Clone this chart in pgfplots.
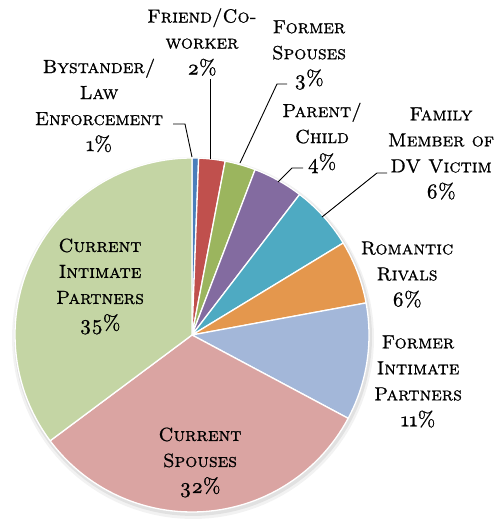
\documentclass[border=0pt]{standalone}
\usepackage{pgfplots}
\pgfplotsset{compat=1.18}
\definecolor{cBlue}{HTML}{4A7EBB}
\definecolor{cRed}{HTML}{C0504D}
\definecolor{cGreen}{HTML}{9BB55E}
\definecolor{cPurple}{HTML}{836BA0}
\definecolor{cTeal}{HTML}{4EAAC2}
\definecolor{cOrange}{HTML}{E4974D}
\definecolor{cLBlue}{HTML}{A3B7D9}
\definecolor{cPink}{HTML}{DAA4A2}
\definecolor{cLGreen}{HTML}{C4D5A4}
\font\scf="[lmromancaps10-regular]:mapping=tex-text;embolden=0.9" at 19pt
\font\pcf="[lmroman10-regular]:mapping=tex-text;+onum;embolden=0.9" at 21pt
\newcommand\pct[1]{{\pcf#1\%}}
% slice: #1 cumulative percent before, #2 percent, #3 colour
\newcommand\slice[3]{%
\addplot[fill=#3, draw=white, line width=1.3pt, line join=round,
  domain={90-3.6*(#1+#2)}:{90-3.6*(#1)}, samples=60, variable=\t]
  ({192+177*cos(\t)},{186+177*sin(\t)}) -- (192,186) -- cycle;}
\begin{document}
\begin{tikzpicture}
\begin{axis}[width=497pt, height=521pt, scale only axis,
  xmin=0, xmax=497, ymin=0, ymax=521, hide axis, clip=false]
\path (rel axis cs:0,0) rectangle (rel axis cs:1,1);
% soft shadow
\addplot[draw=none, fill=black, fill opacity=0.05, domain=0:360, samples=120, variable=\t]
  ({193+181*cos(\t)},{183+181*sin(\t)}) -- cycle;
\addplot[draw=none, fill=black, fill opacity=0.07, domain=0:360, samples=120, variable=\t]
  ({193+179*cos(\t)},{184+179*sin(\t)}) -- cycle;
\slice{0}{0.6}{cBlue}
\slice{0.6}{2.4}{cRed}
\slice{3.0}{2.8}{cGreen}
\slice{5.8}{4.6}{cPurple}
\slice{10.4}{5.9}{cTeal}
\slice{16.3}{5.8}{cOrange}
\slice{22.1}{10.7}{cLBlue}
\slice{32.8}{32.0}{cPink}
\slice{64.8}{35.2}{cLGreen}
% leader lines
\addplot[black, line width=0.9pt, mark=none] coordinates {(173,397) (185,397) (192,364)};
\addplot[black, line width=0.9pt, mark=none] coordinates {(210,442) (210,362)};
\addplot[black, line width=0.9pt, mark=none] coordinates {(287,437) (277,437) (240,358)};
\addplot[black, line width=0.9pt, mark=none] coordinates {(303,353) (292,353) (278,339)};
\addplot[black, line width=0.9pt, mark=none] coordinates {(387,348) (377,348) (322,304)};
% labels
\tikzset{lbl/.style={align=center, inner sep=0pt, font=\fontsize{19}{26}\selectfont\scf}}
\node[lbl] at (99,415.5) {Bystander/\\Law\\Enforcement\\\pct{1}};
\node[lbl] at (202,479) {Friend/Co-\\worker\\\pct{2}};
\node[lbl] at (309,466) {Former\\Spouses\\\pct{3}};
\node[lbl] at (322,383) {Parent/\\Child\\\pct{4}};
\node[lbl] at (441,367.5) {Family\\Member of\\DV Victim\\\pct{6}};
\node[lbl] at (407,246.5) {Romantic\\Rivals\\\pct{6}};
\node[lbl] at (418,139.5) {Former\\Intimate\\Partners\\\pct{11}};
\node[lbl] at (100,234.5) {Current\\Intimate\\Partners\\\pct{35}};
\node[lbl] at (200,58.5) {Current\\Spouses\\\pct{32}};
\end{axis}
\end{tikzpicture}
\end{document}
